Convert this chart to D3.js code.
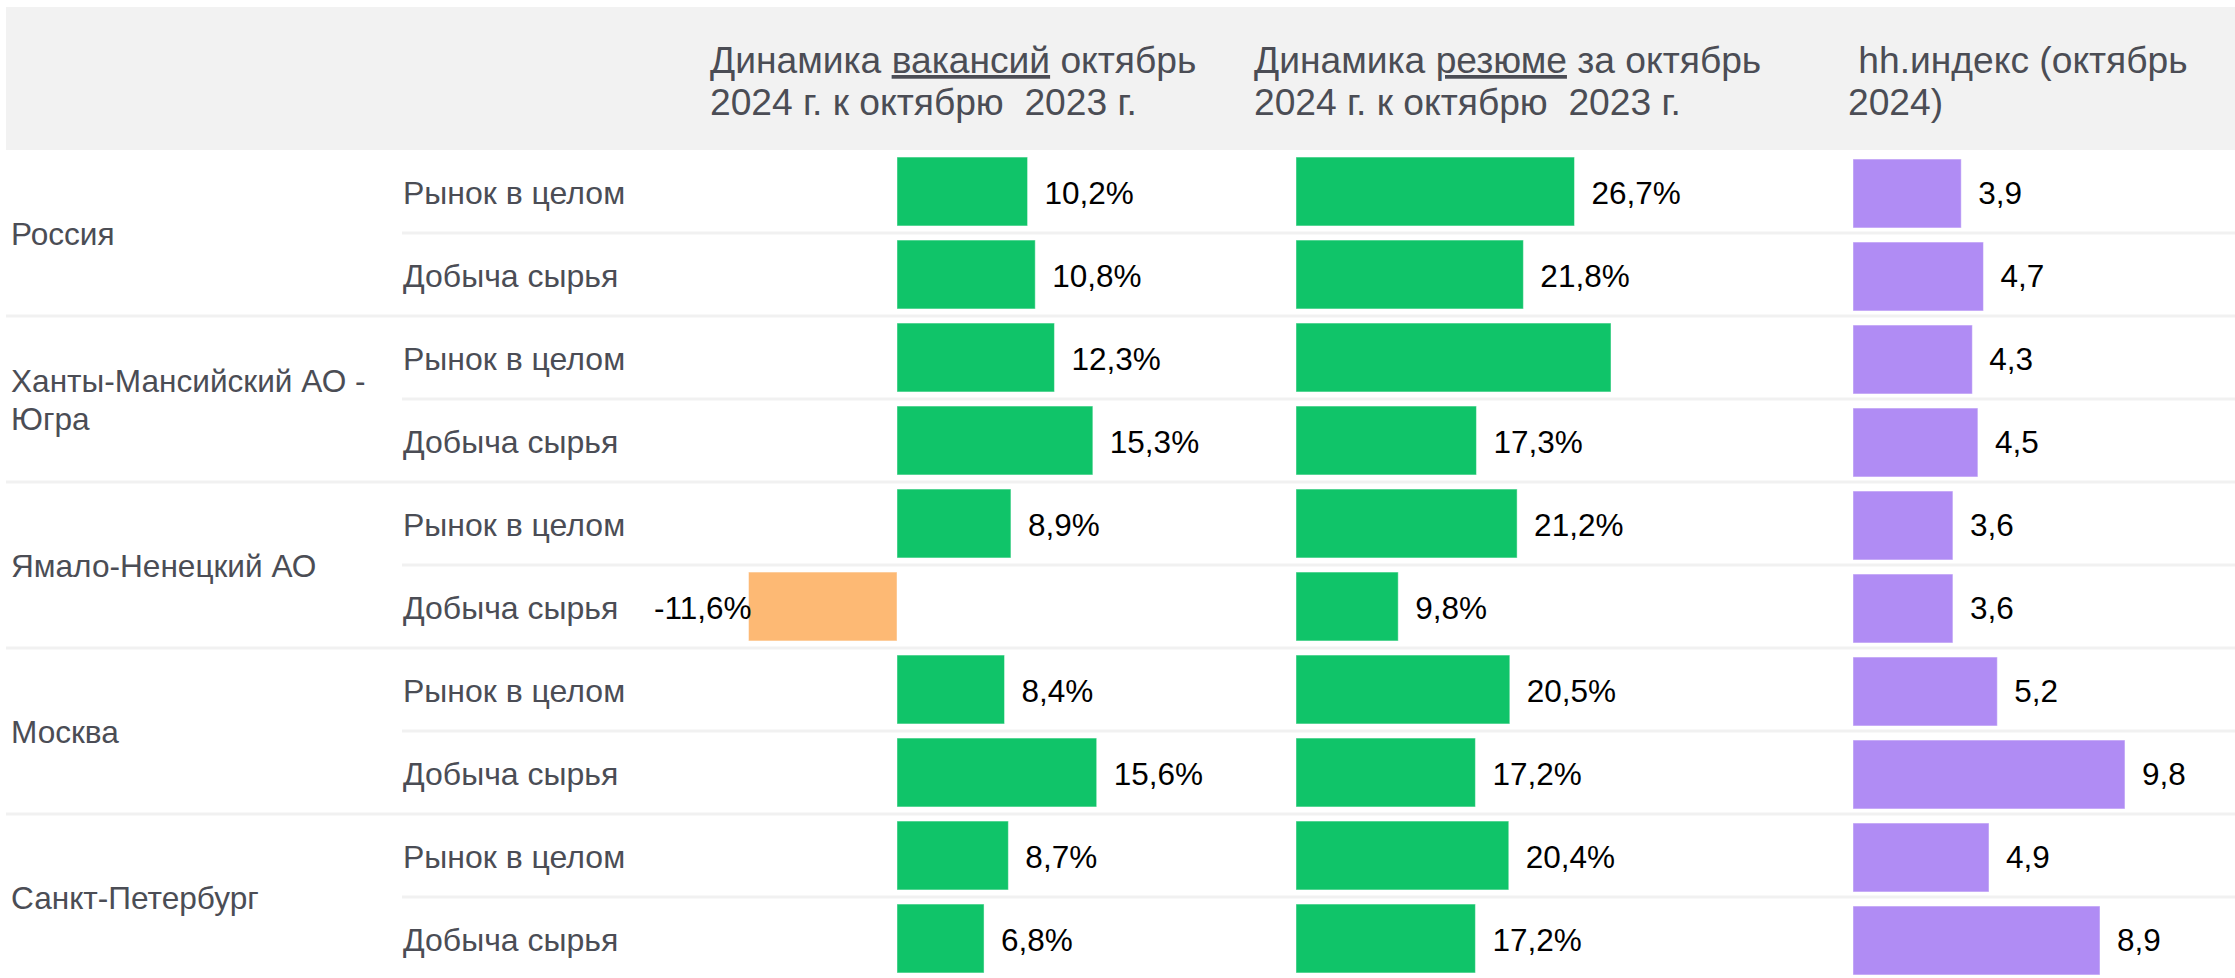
<!DOCTYPE html>
<html>
<head>
<meta charset="utf-8">
<script src="https://cdn.jsdelivr.net/npm/d3@7"></script>
<style>
  body { margin: 0; background: #fff; }
  svg text { font-family: "Liberation Sans", Arial, sans-serif; white-space: pre; }
</style>
</head>
<body>
<div id="chart"></div>
<script>
// Regions and segments (two rows per region)
const regions = ["Россия", "Ханты-Мансийский АО - Югра", "Ямало-Ненецкий АО", "Москва", "Санкт-Петербург"];
const segments = ["Рынок в целом", "Добыча сырья"];

// Column values, one per row (region x segment)
const vacancies = [10.2, 10.8, 12.3, 15.3, 8.9, -11.6, 8.4, 15.6, 8.7, 6.8];
const resumes = [26.7, 21.8, 30.2, 17.3, 21.2, 9.8, 20.5, 17.2, 20.4, 17.2];
const hhIndex = [3.9, 4.7, 4.3, 4.5, 3.6, 3.6, 5.2, 9.8, 4.9, 8.9];

// the resume bar for Ханты-Мансийский / Рынок в целом has no label in the source
const resumesLabelShown = [true, true, false, true, true, true, true, true, true, true];

// Header texts, _word_ is underlined
const headerTitles = [
  ["Динамика _вакансий_ октябрь", "2024 г. к октябрю  2023 г."],
  ["Динамика _резюме_ за октябрь", "2024 г. к октябрю  2023 г."],
  [" hh.индекс (октябрь", "2024)"]
];

const width = 2235, height = 978;
const headerTop = 7, headerBottom = 150;
const textGray = "#4b4d55";

const svg = d3.select("#chart")
  .append("svg")
    .attr("width", width)
    .attr("height", height);

// rows
const rows = d3.range(regions.length * segments.length);
const y = d3.scaleBand()
  .domain(rows)
  .range([headerBottom, headerBottom + 83 * rows.length])
  .paddingInner(0.17)
  .paddingOuter(0.085);
const step = y.step();

// column scales
const xVac = d3.scaleLinear().domain([0, 10]).range([897, 1025]);
const xRes = d3.scaleLinear().domain([0, 10]).range([1296, 1400.3]);
const xHH = d3.scaleLinear().domain([0, 10]).range([1853, 2130.5]);

const fmt = v => d3.format(".1f")(v).replace(".", ",").replace("−", "-");

const columns = [
  { values: vacancies, x: xVac, suffix: "%", shown: rows.map(() => true), head: 710, dy: 0,
    color: v => v < 0 ? "#fdb974" : "#10c469" },
  { values: resumes, x: xRes, suffix: "%", shown: resumesLabelShown, head: 1254, dy: 0,
    color: v => "#10c469" },
  { values: hhIndex, x: xHH, suffix: "", shown: rows.map(() => true), head: 1848, dy: 2,
    color: v => "#b08cf4" }
];

// header band
svg.append("rect")
  .attr("x", 6).attr("y", headerTop)
  .attr("width", width - 6).attr("height", headerBottom - headerTop)
  .attr("fill", "#f2f2f2");

columns.forEach((c, ci) => {
  const t = svg.append("text")
    .attr("fill", textGray)
    .attr("font-size", 37.2);
  headerTitles[ci].forEach((line, li) => {
    const parts = line.split("_");
    parts.forEach((p, pi) => {
      const ts = t.append("tspan").text(p);
      if (pi === 0) ts.attr("x", c.head).attr("y", 73 + li * 42);
      if (pi % 2 === 1) ts.style("text-decoration", "underline");
    });
  });
});

// separators
rows.slice(1).forEach(i => {
  const yy = y(i) - step * y.paddingInner() / 2;
  svg.append("rect")
    .attr("x", i % 2 === 0 ? 6 : 402)
    .attr("y", yy - 1.5)
    .attr("width", width)
    .attr("height", 3)
    .attr("fill", "#f1f1f1");
});

// region labels (wrapped)
regions.forEach((r, ri) => {
  const cy = y(ri * 2 + 1) - step * y.paddingInner() / 2;
  const t = svg.append("text")
    .attr("x", 11)
    .attr("fill", textGray)
    .attr("font-size", 31.6);
  const words = r.split(" ");
  const lines = [];
  let cur = [];
  const probe = t.append("tspan");
  words.forEach(w => {
    probe.text([...cur, w].join(" "));
    if (probe.node().getComputedTextLength() > 380 && cur.length) {
      lines.push(cur.join(" "));
      cur = [w];
    } else cur.push(w);
  });
  lines.push(cur.join(" "));
  probe.remove();
  const lh = 38;
  lines.forEach((l, li) => {
    t.append("tspan")
      .attr("x", 11)
      .attr("y", cy + 12 - (lines.length - 1) * lh / 2 + li * lh)
      .text(l);
  });
});

// segment labels
svg.append("g")
  .selectAll("text")
  .data(rows)
  .join("text")
    .attr("x", 403)
    .attr("y", i => y(i) + y.bandwidth() / 2 + 12)
    .attr("fill", textGray)
    .attr("font-size", 32)
    .text(i => segments[i % 2]);

// bars and value labels
columns.forEach(c => {
  const g = svg.append("g");
  g.selectAll("rect")
    .data(rows)
    .join("rect")
      .attr("x", i => Math.min(c.x(0), c.x(c.values[i])))
      .attr("y", i => y(i) + c.dy)
      .attr("width", i => Math.abs(c.x(c.values[i]) - c.x(0)))
      .attr("height", y.bandwidth())
      .attr("fill", i => c.color(c.values[i]))
      .attr("stroke", "#fff")
      .attr("stroke-opacity", 0.45)
      .attr("stroke-width", 1);

  g.selectAll("text")
    .data(rows.filter(i => c.shown[i]))
    .join("text")
      .attr("x", i => c.values[i] < 0 ? c.x(c.values[i]) + 3 : c.x(c.values[i]) + 17)
      .attr("y", i => y(i) + y.bandwidth() / 2 + 12)
      .attr("text-anchor", i => c.values[i] < 0 ? "end" : "start")
      .attr("fill", "#000")
      .attr("font-size", 31.5)
      .text(i => fmt(c.values[i]) + c.suffix);
});
</script>
</body>
</html>
